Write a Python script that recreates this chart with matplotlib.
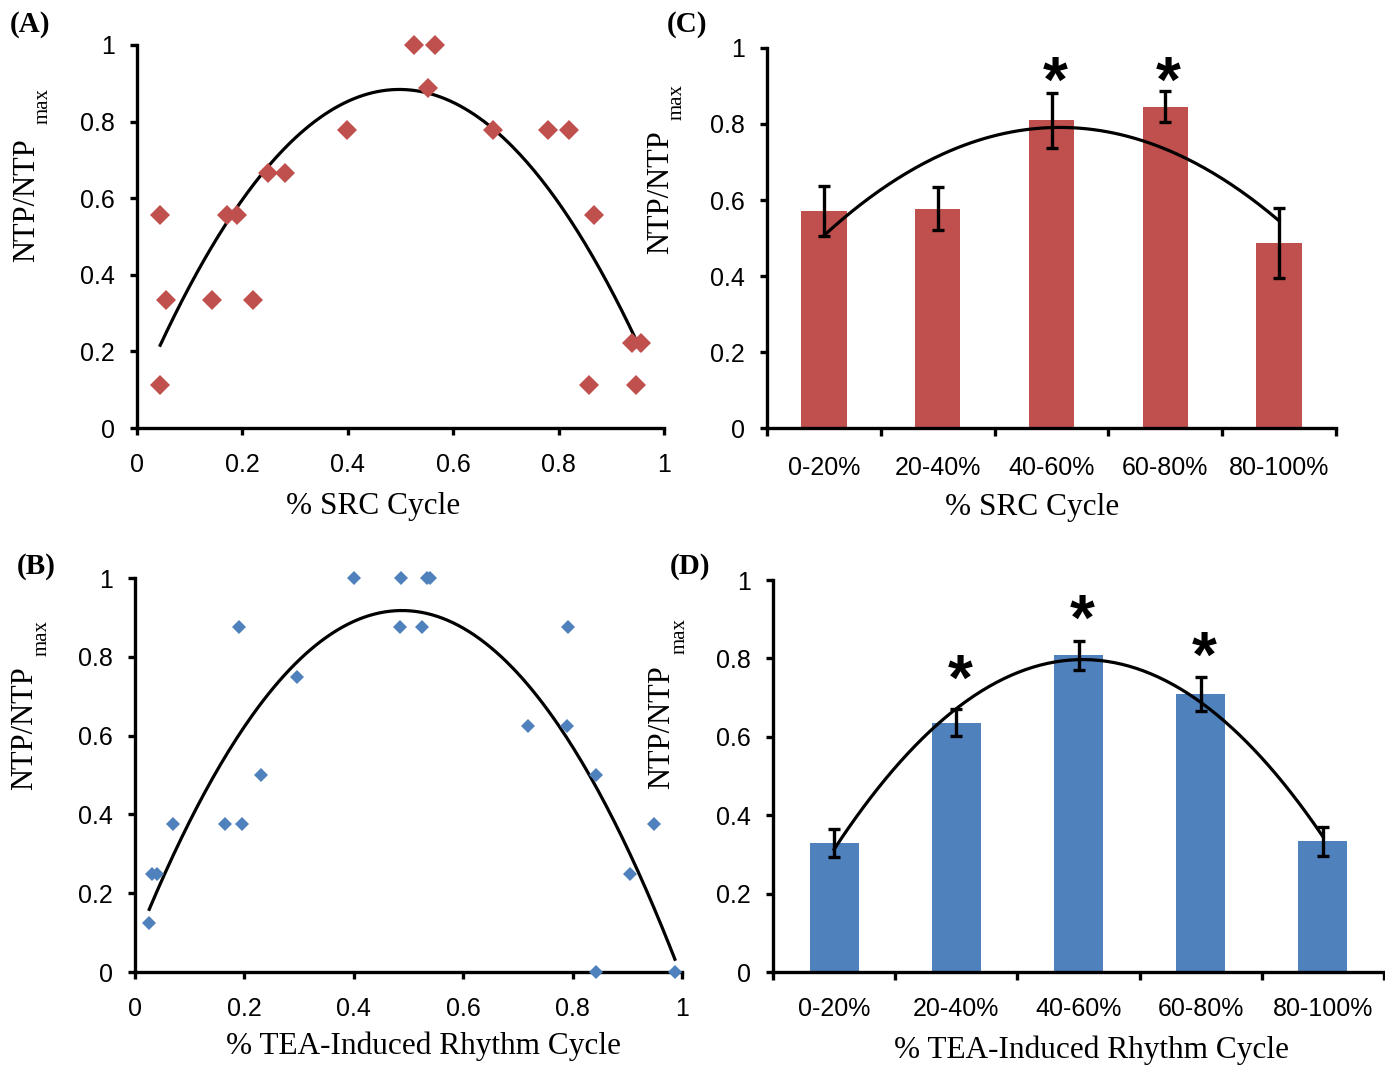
import numpy as np
import matplotlib
matplotlib.use("Agg")
import matplotlib.pyplot as plt
from matplotlib.transforms import offset_copy

W, H = 1385, 1066
RED = "#C0504D"
BLUE = "#4F81BD"
SANS = "Liberation Sans"
SERIF = "Liberation Serif"

# (A) SRC cycle, single events
src_x = [0.044, 0.055, 0.044, 0.142, 0.220, 0.171, 0.189, 0.248, 0.281, 0.398, 0.525,
         0.565, 0.553, 0.676, 0.780, 0.819, 0.868, 0.858, 0.946, 0.940, 0.956]
src_y = [0.556, 0.333, 0.111, 0.333, 0.333, 0.556, 0.556, 0.667, 0.667, 0.778, 1.000,
         1.000, 0.889, 0.778, 0.778, 0.778, 0.556, 0.111, 0.111, 0.222, 0.222]

# (B) TEA-induced rhythm, single events
tea_x = [0.026, 0.031, 0.041, 0.070, 0.165, 0.195, 0.190, 0.230, 0.297, 0.400, 0.487, 0.533,
         0.539, 0.485, 0.525, 0.718, 0.789, 0.791, 0.843, 0.948, 0.905, 0.843, 0.987]
tea_y = [0.125, 0.250, 0.250, 0.375, 0.375, 0.375, 0.875, 0.500, 0.750, 1.000, 1.000, 1.000,
         1.000, 0.875, 0.875, 0.625, 0.625, 0.875, 0.500, 0.375, 0.250, 0.000, 0.000]

# (C)/(D) binned means
bins = ["0-20%", "20-40%", "40-60%", "60-80%", "80-100%"]
src_mean = [0.572, 0.577, 0.810, 0.846, 0.486]
src_err = [0.066, 0.056, 0.072, 0.040, 0.092]
src_star_idx = [2, 3]
src_star_y = [0.938, 0.938]

tea_mean = [0.329, 0.636, 0.808, 0.709, 0.333]
tea_err = [0.035, 0.034, 0.037, 0.044, 0.037]
tea_star_idx = [1, 2, 3]
tea_star_y = [0.771, 0.924, 0.830]

yticks = [0, 0.2, 0.4, 0.6, 0.8, 1.0]
ytick_labels = ["0", "0.2", "0.4", "0.6", "0.8", "1"]

fig = plt.figure(figsize=(W / 100, H / 100), dpi=100)


def px_axes(l, t, r, b):
    return fig.add_axes([l / W, 1 - b / H, (r - l) / W, (b - t) / H])


def fig_text(x, y, s, **kw):
    fig.text(x / W, 1 - y / H, s, **kw)


def style(ax):
    for side in ("top", "right"):
        ax.spines[side].set_visible(False)
    for side in ("left", "bottom"):
        ax.spines[side].set_linewidth(2.4)
    ax.set_ylim(0, 1)
    ax.set_yticks(yticks)
    ax.set_yticklabels(ytick_labels, fontsize=18, family=SANS)
    ax.tick_params(axis="y", direction="out", length=5, width=2.4, pad=11)


def scatter_panel(ax, x, y, color, ms, xpad):
    style(ax)
    coef = np.polyfit(x, y, 2)
    xs = np.linspace(min(x), max(x), 200)
    ax.plot(xs, np.polyval(coef, xs), color="black", lw=2.3, zorder=3)
    ax.plot(x, y, "D", color=color, ms=ms, mew=0, clip_on=False, zorder=4)
    ax.set_xlim(0, 1)
    ax.set_xticks(yticks)
    ax.set_xticklabels(ytick_labels, fontsize=18, family=SANS)
    ax.tick_params(axis="x", direction="out", length=5, width=2.4, pad=xpad)


def bar_panel(ax, means, errs, color, star_idx, star_y, xpad):
    style(ax)
    pos = np.arange(len(means))
    ax.bar(pos, means, width=0.4, color=color, zorder=2)
    coef = np.polyfit(pos, means, 2)
    xs = np.linspace(pos[0], pos[-1], 200)
    ax.plot(xs, np.polyval(coef, xs), color="black", lw=2.3, zorder=3)
    ax.errorbar(pos, means, yerr=errs, fmt="none", ecolor="black", elinewidth=2.4,
                capsize=4, capthick=2.4, zorder=4)
    # asterisk glyph sits high in its line box, pull it down so the ink is centred
    fs = 46
    star_tr = offset_copy(ax.transData, fig=fig, y=-0.21 * fs, units="points")
    for i, yv in zip(star_idx, star_y):
        ax.text(i + 0.03, yv, "*", ha="center", va="center", fontsize=fs,
                fontweight="bold", family=SANS, zorder=5, transform=star_tr)
    ax.set_xlim(-0.5, len(means) - 0.5)
    ax.set_xticks(np.arange(len(means) + 1) - 0.5)
    ax.set_xticklabels([])
    ax.set_xticks(pos, minor=True)
    ax.set_xticklabels(bins, minor=True, fontsize=18, family=SANS)
    ax.tick_params(axis="x", which="major", direction="out", length=6, width=2.4)
    ax.tick_params(axis="x", which="minor", length=0, pad=xpad)


axA = px_axes(137, 45, 664, 428)
scatter_panel(axA, src_x, src_y, RED, 10, 13)

axB = px_axes(135, 578, 682, 972)
scatter_panel(axB, tea_x, tea_y, BLUE, 7.2, 13)

axC = px_axes(767, 48, 1336, 428)
bar_panel(axC, src_mean, src_err, RED, src_star_idx, src_star_y, 20)

axD = px_axes(773, 580, 1384, 972)
bar_panel(axD, tea_mean, tea_err, BLUE, tea_star_idx, tea_star_y, 18)

# panel letters
for lbl, x, y in [("(A)", 30, 24), ("(C)", 687, 24), ("(B)", 36, 567), ("(D)", 690, 567)]:
    fig_text(x, y, lbl, ha="center", va="center", fontsize=21, fontweight="bold", family=SERIF)

# y labels: NTP/NTP with "max" subscript
for x, y, xm, ym in [(27, 200, 43, 106), (661, 192, 677, 102),
                     (25, 728, 42, 638), (662, 727, 680, 636)]:
    fig_text(x, y, "NTP/NTP", rotation=90, ha="center", va="center", fontsize=22, family=SERIF)
    fig_text(xm, ym, "max", rotation=90, ha="center", va="center", fontsize=15, family=SERIF)

# x labels
fig_text(373, 506, "% SRC Cycle", ha="center", va="center", fontsize=22.5, family=SERIF)
fig_text(1032, 507, "% SRC Cycle", ha="center", va="center", fontsize=22.5, family=SERIF)
fig_text(423, 1046, "% TEA-Induced Rhythm Cycle", ha="center", va="center", fontsize=22.5, family=SERIF)
fig_text(1091, 1050, "% TEA-Induced Rhythm Cycle", ha="center", va="center", fontsize=22.5, family=SERIF)

fig.savefig("out.png", dpi=100)
